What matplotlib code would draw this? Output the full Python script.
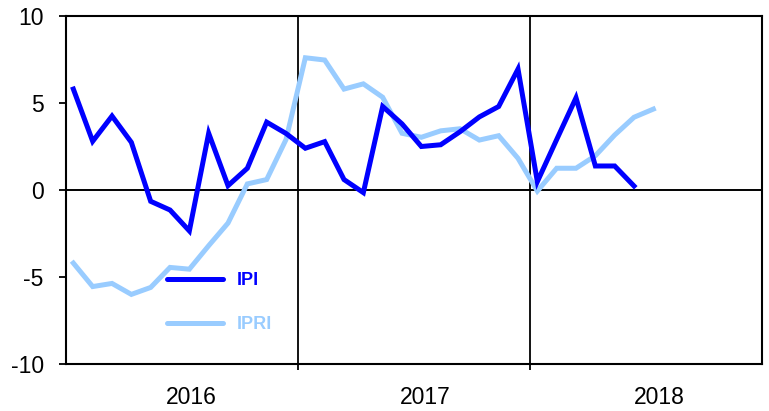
import matplotlib.pyplot as plt
import numpy as np

plt.rcParams['font.family'] = ['Liberation Sans', 'DejaVu Sans']

# monthly values, Jan 2016 onwards
ipi = [5.8, 2.8, 4.25, 2.74, -0.65, -1.15, -2.35, 3.26, 0.25, 1.25, 3.9, 3.25,
       2.4, 2.78, 0.6, -0.15, 4.8, 3.8, 2.5, 2.6, 3.35, 4.2, 4.8, 6.95,
       0.48, 2.9, 5.3, 1.38, 1.38, 0.23]
ipri = [-4.2, -5.55, -5.37, -6.0, -5.6, -4.45, -4.55, -3.2, -1.9, 0.35, 0.6, 2.9,
        7.6, 7.47, 5.8, 6.1, 5.33, 3.26, 3.03, 3.4, 3.52, 2.87, 3.12, 1.82,
        -0.06, 1.25, 1.25, 1.97, 3.16, 4.18, 4.65]
years = ['2016', '2017', '2018']
yticks = [-10, -5, 0, 5, 10]

fig = plt.figure(figsize=(7.69, 4.11), dpi=100)
ax = fig.add_axes([66 / 769, 1 - 364 / 411, 696 / 769, 348 / 411])

x_ipi = np.arange(len(ipi)) + 0.38
x_ipri = np.arange(len(ipri)) + 0.38

ax.axhline(0, color='black', lw=1.4, zorder=1)
for xb in [12, 24]:
    ax.axvline(xb, color='black', lw=1.3, zorder=1)

ax.plot(x_ipi, ipi, color='#0000FF', lw=3.6, solid_joinstyle='miter', zorder=3)
ax.plot(x_ipri, ipri, color='#99CCFF', lw=3.6, solid_joinstyle='miter', zorder=2)

# legend drawn inside the plot
ax.plot([5.2, 8.1], [-5.1, -5.1], color='#0000FF', lw=3.6, solid_capstyle='round')
ax.plot([5.2, 8.1], [-7.65, -7.65], color='#99CCFF', lw=3.6, solid_capstyle='round')
ax.text(8.85, -5.2, 'IPI', color='#0000FF', fontsize=13, fontweight='bold', va='center')
ax.text(8.85, -7.75, 'IPRI', color='#99CCFF', fontsize=13, fontweight='bold', va='center')

ax.set_xlim(0, 36)
ax.set_ylim(-10, 10)
ax.set_yticks(yticks)
ax.set_yticklabels([str(v) for v in yticks], fontsize=16.5)
ax.set_xticks([12, 24])
ax.set_xticklabels([])
ax.set_xticks([6.5, 18.6, 30.7], minor=True)
ax.set_xticklabels(years, minor=True, fontsize=16.5)
ax.tick_params(axis='x', which='major', direction='out', length=4, width=1.3)
ax.tick_params(axis='x', which='minor', length=0, pad=16)
ax.tick_params(axis='y', direction='out', length=5, width=1.3, pad=11)
for s in ax.spines.values():
    s.set_linewidth(1.5)

fig.savefig('out.png', dpi=100)
